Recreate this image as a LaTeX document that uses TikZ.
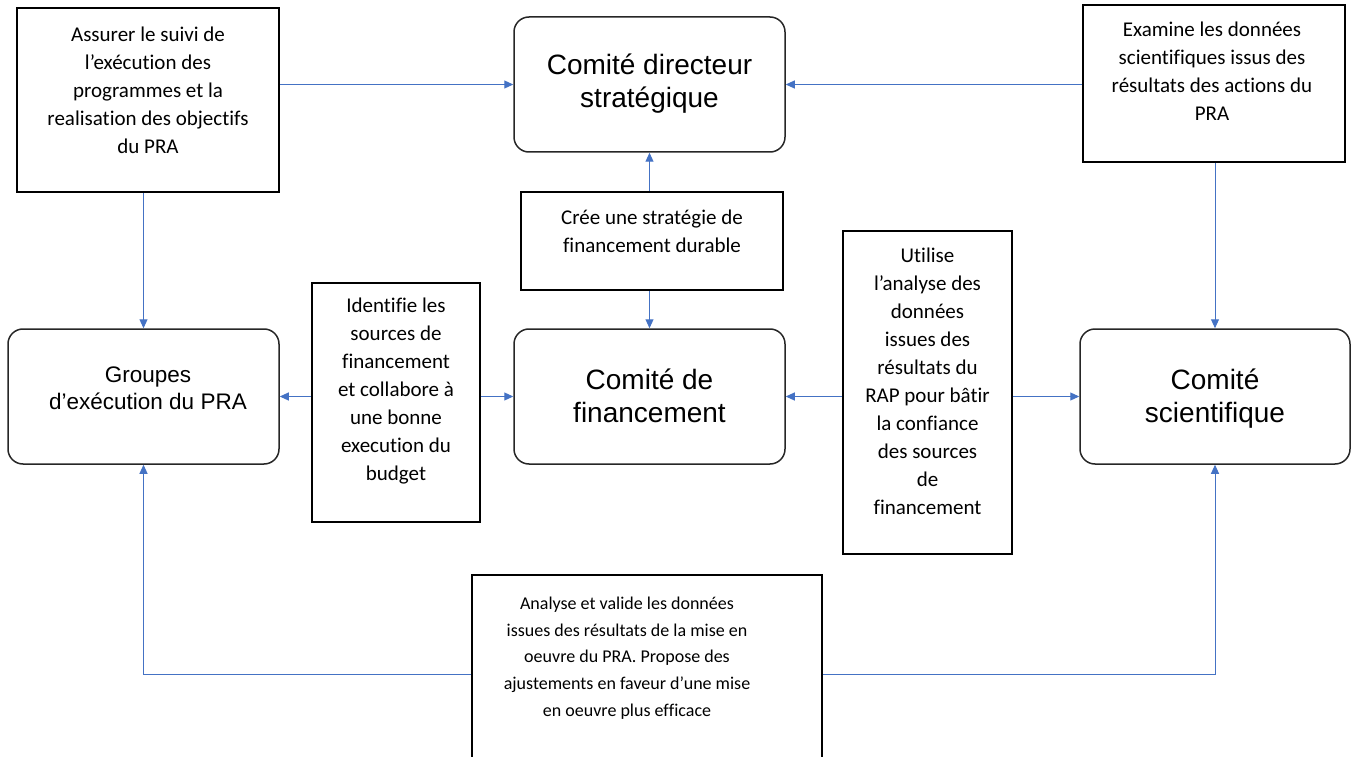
\documentclass[tikz,border=0pt]{standalone}
\usepackage{fontspec}
\setmainfont{Carlito}[Ligatures=NoCommon]
\newfontfamily\arialfont{Liberation Sans}
\usetikzlibrary{arrows.meta}
\definecolor{linkblue}{HTML}{4472C4}
\definecolor{frame}{HTML}{262626}
\tikzset{
  comite/.style={draw=frame, line width=1.5pt, rounded corners=15pt, inner sep=0pt},
  comitetext/.style={align=center, inner sep=0pt, font=\arialfont\fontsize{28}{33}\selectfont},
  notebox/.style={draw=black, line width=2pt, inner sep=0pt},
  notetext/.style={align=center, inner sep=0pt, font=\fontsize{21}{28}\selectfont},
  link/.style={draw=linkblue, line width=1pt, -{Triangle[length=9pt,width=8pt]}},
}
\begin{document}
\begin{tikzpicture}[x=1pt,y=-1pt]
\clip (0,0) rectangle (1353,757);

% committees (rounded boxes)
\node[comite, minimum width=271pt, minimum height=135pt] (cd) at (649.5,84.5) {};
\node[comite, minimum width=271pt, minimum height=135pt] (cf) at (649.5,396.5) {};
\node[comite, minimum width=271pt, minimum height=135pt] (gr) at (143.5,396.5) {};
\node[comite, minimum width=270pt, minimum height=135pt] (cs) at (1215,396.5) {};

\node[comitetext] (cdt) at (649.5,84) {Comité directeur\\stratégique};
\node[comitetext] (cft) at (649.5,396) {Comité de\\financement};
\node[comitetext] (cst) at (1215,398.5) {Comité\\scientifique};
\node[comitetext, font=\arialfont\fontsize{22.5}{27}\selectfont] (grt) at (148,388.5) {Groupes\\d’exécution du PRA};

% role descriptions (square boxes)
\node[notebox, minimum width=262pt, minimum height=184pt] (a) at (148,100) {};
\node[notebox, minimum width=262pt, minimum height=98pt] (c) at (652,241) {};
\node[notebox, minimum width=262pt, minimum height=157pt] (e) at (1214,83.5) {};
\node[notebox, minimum width=168pt, minimum height=239pt] (i) at (396,402.5) {};
\node[notebox, minimum width=169pt, minimum height=323pt] (u) at (927.5,392.5) {};
\node[notebox, minimum width=350pt, minimum height=195pt] (b) at (647,672.5) {};

\node[notetext] (at) at (148,90.5) {Assurer le suivi de\\l’exécution des\\programmes et la\\realisation des objectifs\\du PRA};
\node[notetext] (ct) at (652,231) {Crée une stratégie de\\financement durable};
\node[notetext] (et) at (1212,71) {Examine les données\\scientifiques issus des\\résultats des actions du\\PRA};
\node[notetext] (it) at (396,391.5) {Identifie les\\sources de\\financement\\et collabore à\\une bonne\\execution du\\budget};
\node[notetext] (ut) at (927.5,381.5) {Utilise\\l’analyse des\\données\\issues des\\résultats du\\RAP pour bâtir\\la confiance\\des sources\\de\\financement};
\node[notetext, font=\fontsize{18}{26.75}\selectfont] (bt) at (627,658) {Analyse et valide les données\\issues des résultats de la mise en\\oeuvre du PRA. Propose des\\ajustements en faveur d’une mise\\en oeuvre plus efficace};

% connectors
\draw[link] (a.east |- cd.west) -- (cd.west);
\draw[link] (e.west |- cd.east) -- (cd.east);
\draw[link] (cd.south |- c.north) -- (cd.south);
\draw[link] (cf.north |- c.south) -- (cf.north);
\draw[link] (gr.north |- a.south) -- (gr.north);
\draw[link] (cs.north |- e.south) -- (cs.north);
\draw[link] (i.west |- gr.east) -- (gr.east);
\draw[link] (i.east |- cf.west) -- (cf.west);
\draw[link] (u.west |- cf.east) -- (cf.east);
\draw[link] (u.east |- cs.west) -- (cs.west);
\coordinate (fb) at (0,674.5);
\draw[link] (b.west |- fb) -| (gr.south);
\draw[link] (b.east |- fb) -| (cs.south);
\end{tikzpicture}
\end{document}
